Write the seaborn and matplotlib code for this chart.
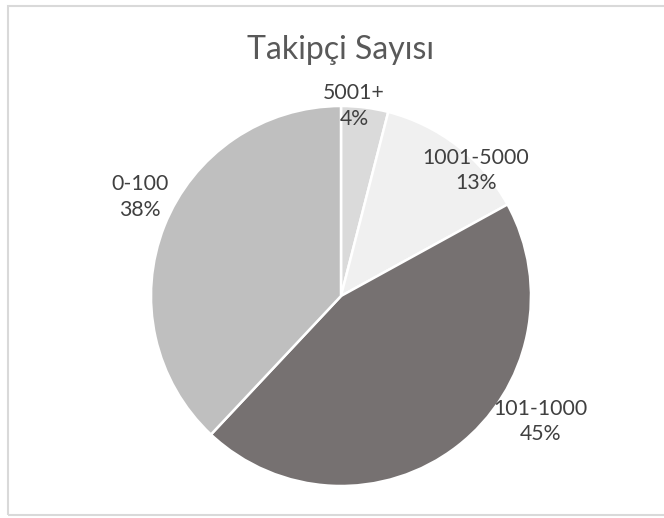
import matplotlib
matplotlib.use("Agg")
import matplotlib.pyplot as plt
import seaborn as sns
from matplotlib.patches import Rectangle

# Data
categories = ['5001+', '1001-5000', '101-1000', '0-100']
shares = [4, 13, 45, 38]
colors = ['#dadada', '#f0f0f0', '#767171', '#bfbfbf']
title = 'Takipçi Sayısı'

# label placement (pie radius units)
label_pos = [(0.068, 1.0), (0.71, 0.66), (1.05, -0.66), (-1.06, 0.52)]

sns.set_theme(style="white")
plt.rcParams['font.family'] = ['Lato', 'DejaVu Sans']

fig = plt.figure(figsize=(6.64, 5.18), dpi=100)
fig.patch.set_facecolor('white')

# outer chart border
fig.add_artist(Rectangle((8 / 664, 3 / 518), 1.0, 509 / 518, transform=fig.transFigure,
                         fill=False, edgecolor='#d9d9d9', linewidth=1.5))

ax = fig.add_axes([151 / 664, 32 / 518, 380 / 664, 380 / 518])
ax.pie(shares, colors=colors, startangle=90, counterclock=False, radius=1,
       wedgeprops=dict(edgecolor='white', linewidth=1.8))
ax.set_xlim(-1, 1)
ax.set_ylim(-1, 1)
ax.set_aspect('equal')
ax.axis('off')

for cat, val, (x, y) in zip(categories, shares, label_pos):
    ax.text(x, y, f'{cat}\n{val}%', ha='center', va='center', fontsize=15.3,
            color='#404040', linespacing=1.35, clip_on=False)

fig.text(341 / 664, 1 - 50 / 518, title, ha='center', va='center', fontsize=23, color='#595959')

fig.savefig('out.png', dpi=100)
